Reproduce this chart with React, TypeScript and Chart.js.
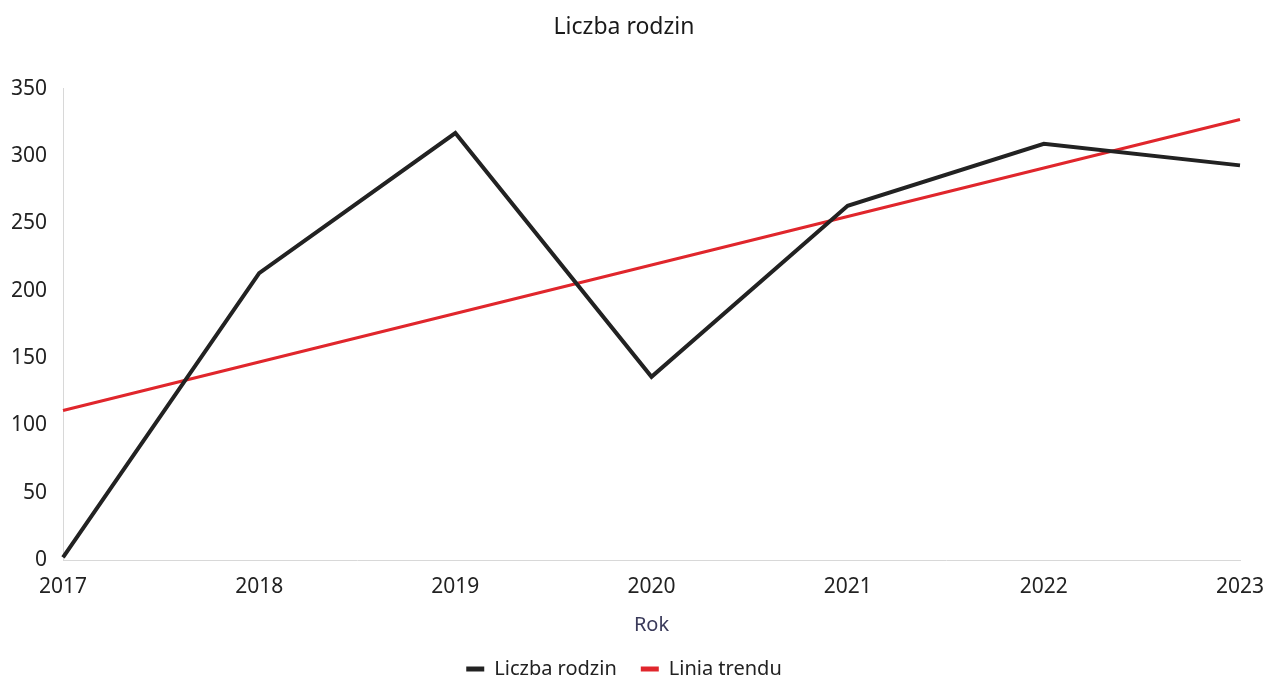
import React, { useEffect, useRef } from "react";
import { Chart, registerables } from "chart.js";

Chart.register(...registerables);

const years = ["2017", "2018", "2019", "2020", "2021", "2022", "2023"];
const families = [2, 213, 317, 136, 263, 309, 293];
const trend = [111, 147, 183, 219, 255, 291, 327];
const yTicks = [0, 50, 100, 150, 200, 250, 300, 350];

export default function App() {
  const ref = useRef<HTMLCanvasElement>(null);
  useEffect(() => {
    document.body.style.margin = "0";
    const ctx = ref.current!;
    const font = "'Noto Sans', 'Open Sans', sans-serif";
    const chart = new Chart(ctx, {
      type: "line",
      data: {
        labels: years,
        datasets: [
          {
            label: "Liczba rodzin",
            data: families,
            borderColor: "#222222",
            backgroundColor: "#222222",
            borderWidth: 4,
            pointRadius: 0,
            tension: 0,
          },
          {
            label: "Linia trendu",
            data: trend,
            borderColor: "#e0262c",
            backgroundColor: "#e0262c",
            borderWidth: 3,
            pointRadius: 0,
            tension: 0,
          },
        ],
      },
      options: {
        animation: false,
        responsive: false,
        layout: { padding: { top: 0, right: 29, bottom: -10, left: 8 } },
        plugins: {
          title: {
            display: true,
            text: "Liczba rodzin",
            color: "#1a1a1a",
            font: { family: font, size: 23, weight: "normal" },
            padding: { top: 14, bottom: 47 },
          },
          legend: {
            position: "bottom",
            labels: {
              color: "#222",
              font: { family: font, size: 20 },
              boxWidth: 18,
              boxHeight: 5,
              padding: 24,
              generateLabels: (c: any) =>
                Chart.defaults.plugins.legend.labels
                  .generateLabels(c)
                  .map((l: any) => ({ ...l, lineWidth: 0 })),
            },
          },
          tooltip: { enabled: false },
        },
        scales: {
          x: {
            type: "category",
            offset: false,
            grid: { display: false, drawTicks: false },
            border: { display: true, color: "#d8d8d8", width: 1 },
            ticks: {
              color: "#222",
              font: { family: font, size: 21 },
              padding: 14,
              maxRotation: 0,
              autoSkip: false,
            },
            title: {
              display: true,
              text: "Rok",
              color: "#3a3a5a",
              font: { family: font, size: 20 },
              padding: { top: 0, bottom: -2 },
            },
            afterFit: (s: any) => {
              s.height = 75;
              s.paddingRight = 0;
              s.paddingLeft = 0;
            },
          },
          y: {
            min: 0,
            max: 350,
            afterBuildTicks: (s: any) => {
              s.ticks = yTicks.map((v) => ({ value: v }));
            },
            grid: { display: false, drawTicks: false },
            border: { display: true, color: "#d8d8d8", width: 1 },
            ticks: {
              color: "#222",
              font: { family: font, size: 21 },
              padding: 16,
            },
            afterFit: (s: any) => {
              s.width = 55;
            },
          },
        },
      },
    });
    return () => chart.destroy();
  }, []);
  return <canvas ref={ref} width={1269} height={679} style={{ display: "block" }} />;
}
